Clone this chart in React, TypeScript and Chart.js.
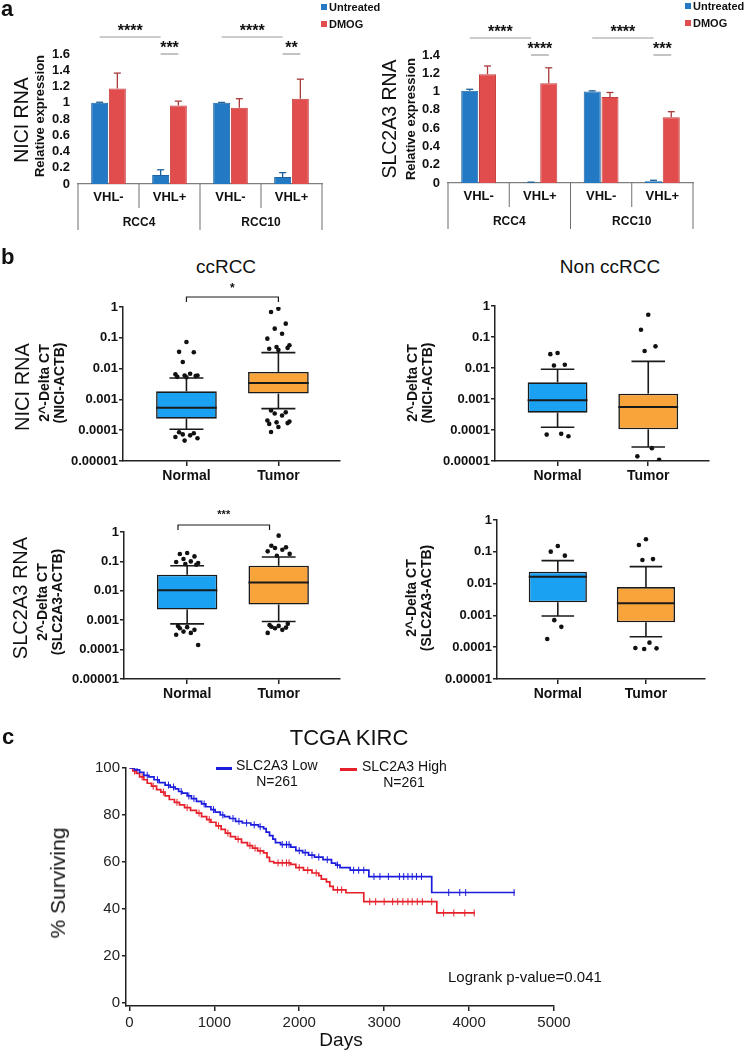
import React, { useEffect, useRef } from 'react';
import { Chart, registerables } from 'chart.js';

Chart.register(...registerables);

const FONT = '"Liberation Sans", Arial, Helvetica, sans-serif';

// ---------------- Panel a : bar charts ----------------
const aConditions = ['VHL-', 'VHL+', 'VHL-', 'VHL+'];
const aCellLines = ['RCC4', 'RCC10'];
const aTreatments = ['Untreated', 'DMOG'];

const niciUntreated = [1.0, 0.11, 1.0, 0.085];
const niciUntreatedErr = [0.006, 0.065, 0.004, 0.055];
const niciDmog = [1.175, 0.965, 0.94, 1.05];
const niciDmogErr = [0.19, 0.055, 0.11, 0.24];
const niciSig = ['****', '***', '****', '**'];

const slcUntreated = [1.01, 0.006, 1.0, 0.02];
const slcUntreatedErr = [0.015, 0.003, 0.008, 0.01];
const slcDmog = [1.19, 1.09, 0.94, 0.72];
const slcDmogErr = [0.09, 0.17, 0.05, 0.06];
const slcSig = ['****', '****', '****', '***'];

// ---------------- Panel b : box plots ----------------
const boxGroups = ['Normal', 'Tumor'];
const logTicks = [0.00001, 0.0001, 0.001, 0.01, 0.1, 1];
const logTickLabels = ['0.00001', '0.0001', '0.001', '0.01', '0.1', '1'];
// [lower whisker, Q1, median, Q3, upper whisker]
const niciCcNormal = [0.000107, 0.000237, 0.00054, 0.00183, 0.00495];
const niciCcTumor = [0.0005, 0.00154, 0.0034, 0.0078, 0.0329];
const niciCcNormalOut = [0.073, 0.035, 0.034, 0.0164, 0.0068, 0.0065, 0.006, 0.006, 0.0057, 0.0054, 0.0052, 0.0000855, 0.00008, 0.000073, 0.000068, 0.00006, 0.000055, 0.000046];
const niciCcTumorOut = [0.88, 0.69, 0.288, 0.198, 0.136, 0.094, 0.057, 0.05, 0.047, 0.044, 0.04, 0.00044, 0.00038, 0.00035, 0.0003, 0.000207, 0.00019, 0.00018, 0.00017, 0.00016, 0.000127, 0.000087];

const niciNonNormal = [0.000122, 0.000363, 0.00091, 0.00345, 0.0091];
const niciNonTumor = [0.0000283, 0.000105, 0.00055, 0.00149, 0.0164];
const niciNonNormalOut = [0.0305, 0.028, 0.0128, 0.012, 0.000075, 0.000071, 0.000063];
const niciNonTumorOut = [0.525, 0.172, 0.05, 0.0354, 0.000026, 0.0000141, 0.0000109];

const slcCcNormal = [0.00075, 0.00231, 0.0105, 0.0351, 0.071];
const slcCcTumor = [0.0009, 0.00342, 0.0192, 0.071, 0.1406];
const slcCcNormalOut = [0.192, 0.178, 0.148, 0.12, 0.1, 0.095, 0.088, 0.081, 0.077, 0.00064, 0.00058, 0.00053, 0.00047, 0.00041, 0.00037, 0.00032, 0.000144];
const slcCcTumorOut = [0.75, 0.342, 0.3, 0.285, 0.25, 0.22, 0.18, 0.156, 0.00075, 0.00068, 0.00064, 0.0006, 0.00056, 0.00053, 0.00047, 0.00037];

const slcNonNormal = [0.00096, 0.00258, 0.0165, 0.0237, 0.0526];
const slcNonTumor = [0.000214, 0.000605, 0.0024, 0.0078, 0.0341];
const slcNonNormalOut = [0.152, 0.101, 0.0757, 0.00071, 0.000437, 0.000181];
const slcNonTumorOut = [0.247, 0.164, 0.059, 0.055, 0.000139, 0.0000947, 0.000092, 0.000088];

// ---------------- Panel c : Kaplan-Meier ----------------
const kmSeries = ['SLC2A3 Low', 'SLC2A3 High'];
const kmN = [261, 261];
const lowDays = [0, 60, 120, 170, 230, 290, 350, 420, 480, 540, 580, 620, 680, 730, 790, 850, 900, 960, 1010, 1070, 1120, 1180, 1250, 1330, 1430, 1520, 1580, 1610, 1650, 1690, 1720, 1780, 1900, 1960, 2040, 2110, 2180, 2280, 2380, 2430, 2480, 2600, 2820, 3560, 4540];
const lowSurv = [100, 99.2, 98.1, 96.9, 96.2, 95, 93.8, 92.7, 91.9, 91.1, 90, 89.3, 88.1, 87, 85.8, 84.7, 83.5, 82.3, 81.2, 80, 79.3, 78.5, 77.3, 76.6, 75.8, 75, 74.2, 72.7, 71.2, 69.7, 68.2, 67.4, 66.3, 64.8, 64, 62.9, 62.1, 61, 59.5, 58.7, 57.6, 56.5, 53.8, 47, 47];
const highDays = [0, 40, 80, 120, 170, 210, 260, 320, 370, 420, 470, 530, 590, 650, 720, 790, 850, 910, 960, 1020, 1080, 1130, 1190, 1250, 1320, 1390, 1450, 1510, 1580, 1620, 1650, 1700, 1900, 1960, 2050, 2150, 2230, 2260, 2320, 2360, 2400, 2550, 2760, 3620, 4070];
const highSurv = [100, 98.8, 97.7, 96.2, 95, 93.5, 92.3, 90.8, 89.7, 88.1, 86.6, 85.4, 84.3, 83.1, 82, 80.8, 79.3, 78, 76.9, 75.4, 73.9, 72.3, 70.8, 69.7, 68.2, 67, 65.9, 64.7, 63.9, 62, 60.2, 59.6, 59, 57.6, 56.5, 55.3, 54.2, 52.7, 51.5, 49.6, 48.1, 46.9, 43.1, 38.3, 38.3];
const lowCensor = [90, 210, 330, 460, 520, 610, 700, 760, 880, 990, 1100, 1220, 1290, 1380, 1470, 1540, 1800, 1850, 1880, 2000, 2070, 2150, 2230, 2330, 2450, 2640, 2700, 2760, 2880, 2950, 3050, 3180, 3230, 3280, 3330, 3380, 3440, 3760, 3890, 3960, 4530];
const highCensor = [60, 150, 280, 400, 560, 680, 820, 940, 1050, 1160, 1280, 1420, 1480, 1540, 1750, 1800, 1850, 1880, 2000, 2100, 2200, 2450, 2500, 2830, 2900, 3000, 3100, 3160, 3220, 3280, 3330, 3390, 3450, 3560, 3700, 3820, 3950, 4060];
const kmDayTicks = [0, 1000, 2000, 3000, 4000, 5000];
const kmPctTicks = [0, 20, 40, 60, 80, 100];
const logrankText = 'Logrank p-value=0.041';

// ---------------- styles ----------------
const BAR_BLUE = '#2379c3';
const BAR_BLUE_EDGE = '#1c64a3';
const BAR_RED = '#e04d4c';
const BAR_RED_EDGE = '#c43f3e';
const ERR_COLORS = ['#1d5f99', '#a93a3a'];
const BOX_BLUE = '#1aa1f2';
const BOX_ORANGE = '#f9a33b';
const BOX_EDGE = '#1a1a1a';
const AXIS = '#222';
const KM_BLUE = '#1c1cdc';
const KM_RED = '#e6202a';
const JITTER = [0, -0.08, 0.08, -0.04, 0.04, -0.12, 0.12, -0.02, 0.1, -0.1];

const zeroPad = (s: any) => {
  s.paddingLeft = 0;
  s.paddingRight = 0;
  s.paddingTop = 0;
  s.paddingBottom = 0;
};

type Area = { left: number; top: number; right: number; bottom: number };

function line(ctx: CanvasRenderingContext2D, x1: number, y1: number, x2: number, y2: number) {
  ctx.beginPath();
  ctx.moveTo(x1, y1);
  ctx.lineTo(x2, y2);
  ctx.stroke();
}

function barChart(
  untreated: number[], untreatedErr: number[], dmog: number[], dmogErr: number[],
  sig: string[], yMax: number, W: number, H: number, area: Area,
): any {
  const vals = [untreated, dmog];
  const errs = [untreatedErr, dmogErr];
  const tickFont = { family: FONT, size: 13, weight: 'bold' as const };
  return {
    type: 'bar',
    data: {
      labels: aConditions,
      datasets: [
        { label: aTreatments[0], data: untreated, backgroundColor: BAR_BLUE, borderColor: BAR_BLUE_EDGE, borderWidth: 1, categoryPercentage: 0.58, barPercentage: 0.96 },
        { label: aTreatments[1], data: dmog, backgroundColor: BAR_RED, borderColor: BAR_RED_EDGE, borderWidth: 1, categoryPercentage: 0.58, barPercentage: 0.96 },
      ],
    },
    options: {
      responsive: false, animation: false, events: [], devicePixelRatio: 1,
      layout: { padding: { left: 0, top: area.top, right: W - area.right, bottom: 0 } },
      plugins: { legend: { display: false }, tooltip: { enabled: false } },
      scales: {
        x: {
          grid: { display: false, drawTicks: false },
          border: { display: true, color: '#7f7f7f', width: 1.2 },
          ticks: { font: tickFont, color: '#111', padding: 6, maxRotation: 0, autoSkip: false },
          afterFit: (s: any) => { s.height = H - area.bottom; zeroPad(s); },
        },
        y: {
          min: 0, max: yMax,
          grid: { display: false, drawTicks: false },
          border: { display: false },
          ticks: { stepSize: 0.2, autoSkip: false, font: tickFont, color: '#111', padding: 8, callback: (v: any) => String(Number(Number(v).toFixed(1))) },
          afterFit: (s: any) => { s.width = area.left; zeroPad(s); },
        },
      },
    },
    plugins: [{
      id: 'barExtras',
      afterDatasetsDraw(chart: any) {
        const ctx: CanvasRenderingContext2D = chart.ctx;
        const xs = chart.scales.x;
        const ys = chart.scales.y;
        const ca = chart.chartArea;
        ctx.save();
        // error bars
        for (let d = 0; d < 2; d++) {
          const meta = chart.getDatasetMeta(d);
          meta.data.forEach((el: any, i: number) => {
            const top = ys.getPixelForValue(vals[d][i] + errs[d][i]);
            ctx.strokeStyle = ERR_COLORS[d];
            ctx.lineWidth = 1.3;
            line(ctx, el.x, el.y, el.x, top);
            line(ctx, el.x - 3.5, top, el.x + 3.5, top);
          });
        }
        // category separators
        ctx.strokeStyle = '#6f6f6f';
        ctx.lineWidth = 1;
        [-0.5, 0.5, 1.5, 2.5, 3.5].forEach((k) => {
          const x = xs.getPixelForValue(k);
          const long = k === -0.5 || k === 1.5 || k === 3.5;
          line(ctx, x, ca.bottom, x, ca.bottom + (long ? 46 : 24));
        });
        // cell line labels
        ctx.fillStyle = '#111';
        ctx.font = `bold 12px ${FONT}`;
        ctx.textAlign = 'center';
        ctx.textBaseline = 'middle';
        aCellLines.forEach((c, g) => {
          ctx.fillText(c, xs.getPixelForValue(2 * g + 0.5), ca.bottom + 39);
        });
        // significance
        const m0 = chart.getDatasetMeta(0).data;
        const m1 = chart.getDatasetMeta(1).data;
        ctx.textBaseline = 'alphabetic';
        ctx.font = `bold 16px ${FONT}`;
        for (let g = 0; g < 2; g++) {
          const b0 = m0[2 * g].x;
          const b1 = m0[2 * g + 1].x;
          const r1 = m1[2 * g + 1].x;
          const yA = ca.top - 17;
          const yB = ca.top;
          ctx.strokeStyle = '#9a9a9a';
          ctx.lineWidth = 1.2;
          line(ctx, b0, yA, b1, yA);
          line(ctx, b1, yB, r1, yB);
          ctx.fillText(sig[2 * g], (b0 + b1) / 2, yA - 1);
          ctx.fillText(sig[2 * g + 1], (b1 + r1) / 2, yB - 1);
        }
        ctx.restore();
      },
    }],
  };
}

type Bracket = { from: number; to: number; label: string; dy: number; gap: number; size: number };

function boxChart(normal: number[], tumor: number[], normalOut: number[], tumorOut: number[], W: number, H: number, area: Area, bracket?: Bracket): any {
  const stats = [normal, tumor];
  const pts = [
    ...normalOut.map((v, i) => ({ x: 0 + JITTER[i % JITTER.length], y: v })),
    ...tumorOut.map((v, i) => ({ x: 1 + JITTER[i % JITTER.length], y: v })),
  ];
  const tickGrid = { display: true, drawOnChartArea: false, drawTicks: true, color: AXIS, lineWidth: 1.5, offset: false };
  return {
    type: 'bar',
    data: {
      datasets: [
        {
          type: 'bar',
          data: stats.map((s, i) => ({ x: i, y: [s[1], s[3]] })),
          backgroundColor: [BOX_BLUE, BOX_ORANGE],
          borderColor: BOX_EDGE, borderWidth: 1.6, borderSkipped: false,
          barPercentage: 0.66, categoryPercentage: 1,
        },
        {
          type: 'scatter', data: pts, pointRadius: 2.3, pointBackgroundColor: '#111', pointBorderWidth: 0, showLine: false,
        },
      ],
    },
    options: {
      responsive: false, animation: false, events: [], devicePixelRatio: 1,
      layout: { padding: { left: 0, top: area.top, right: W - area.right, bottom: 0 } },
      plugins: { legend: { display: false }, tooltip: { enabled: false } },
      scales: {
        x: {
          type: 'linear', min: -0.69, max: 1.67, offset: false,
          afterBuildTicks: (s: any) => { s.ticks = boxGroups.map((_, i) => ({ value: i })); },
          ticks: { callback: (v: any) => boxGroups[v] ?? '', font: { family: FONT, size: 14, weight: 'bold' }, color: '#111', padding: 2, maxRotation: 0 },
          grid: { ...tickGrid, tickLength: 5 },
          border: { display: true, color: AXIS, width: 1.5 },
          afterFit: (s: any) => { s.height = H - area.bottom; zeroPad(s); },
        },
        y: {
          type: 'logarithmic', min: 0.00001, max: 1,
          afterBuildTicks: (s: any) => { s.ticks = logTicks.map((v) => ({ value: v })); },
          ticks: { callback: (_v: any, i: number) => logTickLabels[i], font: { family: FONT, size: 13, weight: 'bold' }, color: '#111', padding: 1, autoSkip: false },
          grid: { ...tickGrid, tickLength: 4 },
          border: { display: true, color: AXIS, width: 1.5 },
          afterFit: (s: any) => { s.width = area.left; zeroPad(s); },
        },
      },
    },
    plugins: [{
      id: 'whiskers',
      afterDatasetsDraw(chart: any) {
        const ctx: CanvasRenderingContext2D = chart.ctx;
        const xs = chart.scales.x;
        const ys = chart.scales.y;
        const ca = chart.chartArea;
        const meta = chart.getDatasetMeta(0);
        ctx.save();
        ctx.strokeStyle = BOX_EDGE;
        stats.forEach((s, i) => {
          const el = meta.data[i];
          const xc = el.x;
          const w = el.width;
          const cap = w * 0.28;
          const yLow = ys.getPixelForValue(s[0]);
          const yQ1 = ys.getPixelForValue(s[1]);
          const yMed = ys.getPixelForValue(s[2]);
          const yQ3 = ys.getPixelForValue(s[3]);
          const yHigh = ys.getPixelForValue(s[4]);
          ctx.lineWidth = 1.6;
          line(ctx, xc, yQ3, xc, yHigh);
          line(ctx, xc - cap, yHigh, xc + cap, yHigh);
          line(ctx, xc, yQ1, xc, yLow);
          line(ctx, xc - cap, yLow, xc + cap, yLow);
          ctx.lineWidth = 2;
          line(ctx, xc - w / 2, yMed, xc + w / 2, yMed);
        });
        if (bracket) {
          const xa = xs.getPixelForValue(bracket.from);
          const xb = xs.getPixelForValue(bracket.to);
          const yb = ca.top - bracket.dy;
          ctx.lineWidth = 1.2;
          ctx.beginPath();
          ctx.moveTo(xa, yb + 5);
          ctx.lineTo(xa, yb);
          ctx.lineTo(xb, yb);
          ctx.lineTo(xb, yb + 5);
          ctx.stroke();
          ctx.fillStyle = '#111';
          ctx.font = `bold ${bracket.size}px ${FONT}`;
          ctx.textAlign = 'center';
          ctx.textBaseline = 'alphabetic';
          ctx.fillText(bracket.label, (xa + xb) / 2, yb - bracket.gap);
        }
        ctx.restore();
      },
    }],
  };
}

function survivalAt(days: number[], surv: number[], t: number) {
  let s = surv[0];
  for (let i = 0; i < days.length; i++) if (days[i] <= t) s = surv[i];
  return s;
}

function kmChart(W: number, H: number, area: Area): any {
  const tickGrid = { display: true, drawOnChartArea: false, drawTicks: true, color: AXIS, lineWidth: 1.5 };
  const tickFont = { family: FONT, size: 15 };
  return {
    type: 'line',
    data: {
      datasets: [
        { label: kmSeries[0], data: lowDays.map((d, i) => ({ x: d, y: lowSurv[i] })), borderColor: KM_BLUE, borderWidth: 1.7, stepped: 'before', pointRadius: 0, fill: false },
        { label: kmSeries[1], data: highDays.map((d, i) => ({ x: d, y: highSurv[i] })), borderColor: KM_RED, borderWidth: 1.7, stepped: 'before', pointRadius: 0, fill: false },
        { type: 'scatter', data: lowCensor.map((t) => ({ x: t, y: survivalAt(lowDays, lowSurv, t) })), pointStyle: 'line', rotation: 90, pointRadius: 3.5, borderColor: KM_BLUE, pointBorderColor: KM_BLUE, pointBorderWidth: 1, showLine: false },
        { type: 'scatter', data: highCensor.map((t) => ({ x: t, y: survivalAt(highDays, highSurv, t) })), pointStyle: 'line', rotation: 90, pointRadius: 3.5, borderColor: KM_RED, pointBorderColor: KM_RED, pointBorderWidth: 1, showLine: false },
      ],
    },
    options: {
      responsive: false, animation: false, events: [], devicePixelRatio: 1,
      layout: { padding: { left: 0, top: area.top, right: W - area.right, bottom: 0 } },
      plugins: { legend: { display: false }, tooltip: { enabled: false } },
      scales: {
        x: {
          type: 'linear', min: -40, max: 5000,
          afterBuildTicks: (s: any) => { s.ticks = kmDayTicks.map((v) => ({ value: v })); },
          ticks: { callback: (v: any) => String(v), font: tickFont, color: '#222', padding: 3, maxRotation: 0, autoSkip: false },
          grid: { ...tickGrid, tickLength: 5 },
          border: { display: true, color: AXIS, width: 1.5 },
          afterFit: (s: any) => { s.height = H - area.bottom; zeroPad(s); },
        },
        y: {
          type: 'linear', min: -1.3, max: 100,
          afterBuildTicks: (s: any) => { s.ticks = kmPctTicks.map((v) => ({ value: v })); },
          ticks: { callback: (v: any) => String(v), font: tickFont, color: '#222', padding: 2, autoSkip: false },
          grid: { ...tickGrid, tickLength: 4 },
          border: { display: true, color: AXIS, width: 1.5 },
          afterFit: (s: any) => { s.width = area.left; zeroPad(s); },
        },
      },
    },
  };
}

function ChartCanvas({ left, top, width, height, build }: { left: number; top: number; width: number; height: number; build: () => any }) {
  const ref = useRef<HTMLCanvasElement | null>(null);
  useEffect(() => {
    if (!ref.current) return;
    const chart = new Chart(ref.current, build());
    return () => chart.destroy();
  }, []);
  return (
    <div style={{ position: 'absolute', left, top, width, height }}>
      <canvas ref={ref} width={width} height={height} style={{ display: 'block', width, height }} />
    </div>
  );
}

type TP = { x: number; y: number; size: number; bold?: boolean; rot?: boolean; start?: boolean; lh?: number; children: React.ReactNode; color?: string };
function Txt({ x, y, size, bold, rot, start, lh, children, color }: TP) {
  const tx = start ? '0' : '-50%';
  return (
    <div
      style={{
        position: 'absolute', left: x, top: y, fontFamily: FONT, fontSize: size,
        fontWeight: bold ? 700 : 400, lineHeight: lh ? `${lh}px` : 1.15, whiteSpace: 'pre',
        textAlign: 'center', color: color || '#111',
        transform: `translate(${tx},-50%)${rot ? ' rotate(-90deg)' : ''}`,
      }}
    >
      {children}
    </div>
  );
}

function Swatch({ x, y, w, h, color }: { x: number; y: number; w: number; h: number; color: string }) {
  return <div style={{ position: 'absolute', left: x, top: y, width: w, height: h, background: color }} />;
}

export default function App() {
  return (
    <div style={{ position: 'absolute', left: 0, top: 0, width: 745, height: 1052, background: '#fff', overflow: 'hidden' }}>
      {/* Panel a */}
      <ChartCanvas left={0} top={0} width={370} height={240}
        build={() => barChart(niciUntreated, niciUntreatedErr, niciDmog, niciDmogErr, niciSig, 1.6, 370, 240, { left: 78, top: 54, right: 322, bottom: 184 })} />
      <ChartCanvas left={370} top={0} width={375} height={240}
        build={() => barChart(slcUntreated, slcUntreatedErr, slcDmog, slcDmogErr, slcSig, 1.4, 375, 240, { left: 78, top: 55, right: 323, bottom: 183 })} />

      {/* Panel b */}
      <ChartCanvas left={0} top={280} width={370} height={210}
        build={() => boxChart(niciCcNormal, niciCcTumor, niciCcNormalOut, niciCcTumorOut, 370, 210, { left: 123, top: 27, right: 340, bottom: 181 },
          { from: 0, to: 1, label: '*', dy: 10, gap: 5, size: 12 })} />
      <ChartCanvas left={370} top={280} width={375} height={210}
        build={() => boxChart(niciNonNormal, niciNonTumor, niciNonNormalOut, niciNonTumorOut, 375, 210, { left: 125, top: 26, right: 339, bottom: 181 })} />
      <ChartCanvas left={0} top={505} width={370} height={210}
        build={() => boxChart(slcCcNormal, slcCcTumor, slcCcNormalOut, slcCcTumorOut, 370, 210, { left: 124, top: 27, right: 340, bottom: 174 },
          { from: -0.1, to: 0.9, label: '***', dy: 7, gap: 7, size: 11 })} />
      <ChartCanvas left={370} top={505} width={375} height={210}
        build={() => boxChart(slcNonNormal, slcNonTumor, slcNonNormalOut, slcNonTumorOut, 375, 210, { left: 127, top: 15, right: 335, bottom: 174 })} />

      {/* Panel c */}
      <ChartCanvas left={0} top={745} width={745} height={307}
        build={() => kmChart(745, 307, { left: 126, top: 23, right: 554, bottom: 261 })} />

      {/* Panel a texts */}
      <Txt x={1} y={9} size={22} bold start>a</Txt>
      <Txt x={21} y={120} size={19.5} rot>NICI RNA</Txt>
      <Txt x={40} y={116} size={13} bold rot>Relative expression</Txt>
      <Txt x={389} y={119} size={19.5} rot>SLC2A3 RNA</Txt>
      <Txt x={411} y={119} size={13} bold rot>Relative expression</Txt>
      <Swatch x={321} y={4} w={6} h={6} color={BAR_BLUE} />
      <Txt x={329} y={7} size={11} bold start>{aTreatments[0]}</Txt>
      <Swatch x={321} y={21} w={6} h={6} color={BAR_RED} />
      <Txt x={329} y={24} size={11} bold start>{aTreatments[1]}</Txt>
      <Swatch x={685} y={3} w={6} h={6} color={BAR_BLUE} />
      <Txt x={693} y={6} size={11} bold start>{aTreatments[0]}</Txt>
      <Swatch x={685} y={20} w={6} h={6} color={BAR_RED} />
      <Txt x={693} y={23} size={11} bold start>{aTreatments[1]}</Txt>

      {/* Panel b texts */}
      <Txt x={1} y={257} size={22} bold start>b</Txt>
      <Txt x={226} y={267} size={19}>ccRCC</Txt>
      <Txt x={610} y={267} size={19}>Non ccRCC</Txt>
      <Txt x={22} y={387} size={20} rot>NICI RNA</Txt>
      <Txt x={52} y={383} size={14} bold rot lh={15}>{'2^-Delta CT\n(NICI-ACTB)'}</Txt>
      <Txt x={420} y={383} size={14} bold rot lh={15}>{'2^-Delta CT\n(NICI-ACTB)'}</Txt>
      <Txt x={20} y={598} size={20} rot>SLC2A3 RNA</Txt>
      <Txt x={50} y={602} size={14} bold rot lh={15}>{'2^-Delta CT\n(SLC2A3-ACTB)'}</Txt>
      <Txt x={419} y={598} size={14} bold rot lh={15}>{'2^-Delta CT\n(SLC2A3-ACTB)'}</Txt>

      {/* Panel c texts */}
      <Txt x={2} y={737} size={22} bold start>c</Txt>
      <Txt x={349} y={738} size={22}>TCGA KIRC</Txt>
      <Txt x={58} y={883} size={21} rot>% Surviving</Txt>
      <Txt x={341} y={1040} size={19}>Days</Txt>
      <Swatch x={216} y={767} w={16} h={3} color={KM_BLUE} />
      <Txt x={236} y={765} size={14} start>{kmSeries[0]}</Txt>
      <Txt x={277} y={781} size={14}>{`N=${kmN[0]}`}</Txt>
      <Swatch x={340} y={768} w={17} h={3} color={KM_RED} />
      <Txt x={362} y={766} size={14} start>{kmSeries[1]}</Txt>
      <Txt x={404} y={782} size={14}>{`N=${kmN[1]}`}</Txt>
      <Txt x={448} y={977} size={15} start>{logrankText}</Txt>
    </div>
  );
}
